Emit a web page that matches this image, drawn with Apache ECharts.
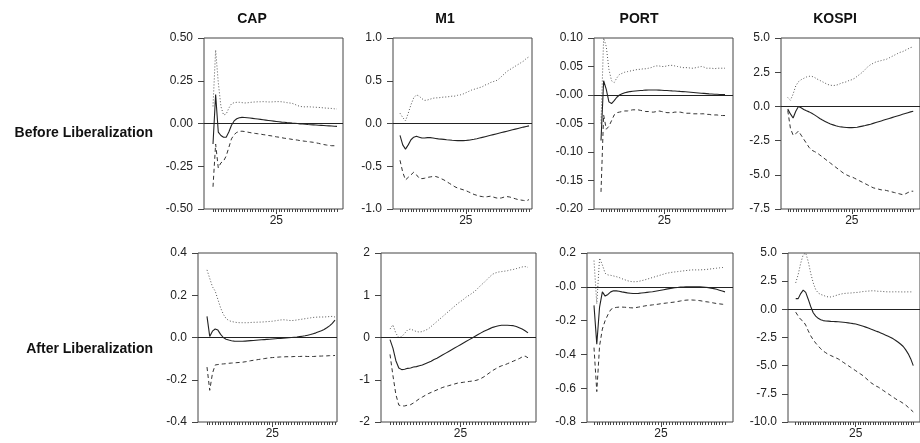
<!DOCTYPE html>
<html><head><meta charset="utf-8">
<script src="https://cdn.jsdelivr.net/npm/echarts@6/dist/echarts.min.js"></script>
<style>html,body{margin:0;padding:0;background:#fff}#c{width:920px;height:443px}</style>
</head><body><div id="c"></div>
<script>
// ---------------- DATA ----------------
const periods = [1,2,3,4,5,6,7,8,9,10,11,12,13,14,15,16,17,18,19,20,21,22,23,24,25,26,27,28,29,30,31,32,33,34,35,36,37,38,39,40,41,42,43,44,45,46,47,48];
const periodLabels = [25];
const columnTitles = ['CAP','M1','PORT','KOSPI'];
const rowTitles = ['Before Liberalization','After Liberalization'];

// Before liberalization
const capBeforeIRF = [-0.12,0.17,-0.05,-0.07,-0.08,-0.08,-0.05,-0.01,0.015,0.028,0.034,0.036,0.035,0.034,0.032,0.030,0.028,0.026,0.024,0.022,0.020,0.018,0.016,0.014,0.012,0.010,0.008,0.007,0.005,0.004,0.002,0.001,0.0,-0.002,-0.003,-0.004,-0.006,-0.007,-0.008,-0.009,-0.010,-0.011,-0.012,-0.013,-0.014,-0.015,-0.016,-0.017];
const capBeforeUpper = [0.10,0.43,0.24,0.10,0.05,0.055,0.09,0.115,0.122,0.124,0.124,0.122,0.12,0.121,0.123,0.125,0.126,0.127,0.127,0.128,0.127,0.126,0.126,0.127,0.128,0.128,0.127,0.125,0.122,0.12,0.118,0.112,0.105,0.1,0.098,0.097,0.098,0.097,0.096,0.095,0.094,0.093,0.091,0.09,0.089,0.088,0.086,0.085];
const capBeforeLower = [-0.37,-0.12,-0.26,-0.23,-0.22,-0.19,-0.14,-0.09,-0.065,-0.052,-0.046,-0.045,-0.047,-0.05,-0.053,-0.056,-0.058,-0.06,-0.062,-0.065,-0.067,-0.07,-0.072,-0.075,-0.078,-0.08,-0.083,-0.086,-0.088,-0.09,-0.093,-0.095,-0.097,-0.1,-0.102,-0.104,-0.106,-0.108,-0.11,-0.113,-0.116,-0.12,-0.123,-0.126,-0.128,-0.13,-0.13,-0.13];

const m1BeforeIRF = [-0.14,-0.25,-0.30,-0.25,-0.19,-0.16,-0.15,-0.16,-0.17,-0.17,-0.165,-0.165,-0.17,-0.175,-0.18,-0.183,-0.186,-0.19,-0.193,-0.196,-0.198,-0.2,-0.2,-0.2,-0.198,-0.195,-0.19,-0.185,-0.178,-0.17,-0.162,-0.154,-0.146,-0.138,-0.13,-0.122,-0.114,-0.106,-0.098,-0.09,-0.082,-0.074,-0.066,-0.058,-0.05,-0.042,-0.035,-0.028];
const m1BeforeUpper = [0.12,0.07,0.03,0.12,0.22,0.30,0.335,0.32,0.29,0.27,0.275,0.285,0.295,0.30,0.30,0.305,0.31,0.31,0.315,0.32,0.32,0.33,0.335,0.345,0.36,0.375,0.39,0.40,0.41,0.42,0.43,0.45,0.46,0.48,0.49,0.50,0.52,0.55,0.58,0.61,0.63,0.65,0.67,0.69,0.71,0.73,0.76,0.78];
const m1BeforeLower = [-0.43,-0.57,-0.66,-0.63,-0.60,-0.57,-0.60,-0.64,-0.645,-0.64,-0.63,-0.625,-0.62,-0.62,-0.63,-0.645,-0.66,-0.68,-0.70,-0.72,-0.74,-0.755,-0.765,-0.775,-0.785,-0.80,-0.815,-0.83,-0.84,-0.85,-0.855,-0.86,-0.855,-0.85,-0.86,-0.87,-0.875,-0.87,-0.86,-0.855,-0.86,-0.87,-0.88,-0.89,-0.895,-0.90,-0.905,-0.89];

const portBeforeIRF = [-0.08,0.025,0.01,-0.012,-0.015,-0.01,-0.004,0.0,0.002,0.004,0.005,0.006,0.0065,0.007,0.0075,0.008,0.0082,0.0085,0.0087,0.0088,0.0088,0.0087,0.0085,0.0083,0.008,0.0078,0.0075,0.0072,0.007,0.0067,0.0063,0.006,0.0056,0.0052,0.0048,0.0044,0.004,0.0036,0.0032,0.0028,0.0024,0.002,0.0017,0.0014,0.0012,0.001,0.0008,0.0006];
const portBeforeUpper = [-0.05,0.10,0.085,0.045,0.025,0.022,0.03,0.036,0.038,0.04,0.041,0.042,0.043,0.044,0.045,0.045,0.046,0.046,0.047,0.048,0.05,0.051,0.051,0.05,0.05,0.051,0.052,0.052,0.051,0.05,0.049,0.048,0.048,0.048,0.047,0.047,0.048,0.049,0.05,0.049,0.047,0.047,0.047,0.046,0.047,0.047,0.047,0.047];
const portBeforeLower = [-0.17,-0.035,-0.06,-0.055,-0.045,-0.035,-0.031,-0.03,-0.029,-0.028,-0.028,-0.027,-0.026,-0.026,-0.026,-0.027,-0.028,-0.029,-0.029,-0.03,-0.03,-0.029,-0.028,-0.029,-0.030,-0.031,-0.031,-0.031,-0.030,-0.030,-0.030,-0.031,-0.032,-0.032,-0.032,-0.033,-0.033,-0.033,-0.033,-0.033,-0.034,-0.034,-0.035,-0.035,-0.035,-0.036,-0.036,-0.036];

const kospiBeforeIRF = [-0.2,-0.55,-0.85,-0.35,0.0,-0.1,-0.22,-0.32,-0.4,-0.5,-0.62,-0.75,-0.88,-1.0,-1.1,-1.2,-1.28,-1.35,-1.42,-1.47,-1.5,-1.52,-1.54,-1.55,-1.55,-1.54,-1.52,-1.48,-1.44,-1.4,-1.35,-1.3,-1.24,-1.18,-1.12,-1.06,-1.0,-0.94,-0.88,-0.82,-0.76,-0.7,-0.64,-0.58,-0.52,-0.46,-0.4,-0.35];
const kospiBeforeUpper = [0.65,0.45,0.9,1.5,1.8,1.95,2.05,2.15,2.2,2.2,2.12,2.0,1.9,1.8,1.7,1.6,1.55,1.52,1.55,1.6,1.7,1.75,1.8,1.9,1.95,2.05,2.2,2.35,2.5,2.7,2.9,3.05,3.15,3.25,3.3,3.35,3.4,3.45,3.55,3.65,3.75,3.85,3.95,4.0,4.1,4.2,4.3,4.35];
const kospiBeforeLower = [-0.3,-1.6,-2.1,-2.0,-1.8,-2.1,-2.4,-2.7,-3.0,-3.2,-3.3,-3.4,-3.55,-3.7,-3.85,-4.0,-4.15,-4.3,-4.45,-4.6,-4.75,-4.9,-5.0,-5.1,-5.15,-5.25,-5.35,-5.45,-5.55,-5.65,-5.75,-5.85,-5.95,-6.0,-6.05,-6.1,-6.1,-6.15,-6.2,-6.25,-6.3,-6.35,-6.4,-6.45,-6.4,-6.3,-6.2,-6.2];

// After liberalization
const capAfterIRF = [0.10,0.005,0.03,0.04,0.035,0.015,0.0,-0.008,-0.012,-0.015,-0.017,-0.018,-0.018,-0.018,-0.017,-0.016,-0.015,-0.014,-0.013,-0.012,-0.011,-0.010,-0.009,-0.008,-0.007,-0.006,-0.005,-0.004,-0.003,-0.002,-0.001,0.0,0.001,0.002,0.004,0.006,0.008,0.011,0.014,0.018,0.022,0.027,0.032,0.038,0.046,0.055,0.067,0.082];
const capAfterUpper = [0.32,0.28,0.24,0.22,0.18,0.14,0.11,0.09,0.08,0.076,0.073,0.071,0.07,0.07,0.07,0.07,0.071,0.072,0.072,0.073,0.073,0.074,0.075,0.076,0.077,0.079,0.081,0.083,0.084,0.083,0.081,0.08,0.081,0.083,0.085,0.087,0.089,0.091,0.093,0.095,0.096,0.097,0.097,0.097,0.098,0.099,0.1,0.097];
const capAfterLower = [-0.14,-0.25,-0.17,-0.13,-0.128,-0.126,-0.125,-0.124,-0.122,-0.121,-0.12,-0.119,-0.118,-0.117,-0.115,-0.113,-0.11,-0.108,-0.106,-0.104,-0.102,-0.1,-0.098,-0.096,-0.095,-0.094,-0.093,-0.092,-0.092,-0.091,-0.091,-0.091,-0.09,-0.09,-0.09,-0.089,-0.089,-0.09,-0.09,-0.09,-0.089,-0.088,-0.088,-0.087,-0.087,-0.086,-0.086,-0.085];

const m1AfterIRF = [-0.05,-0.25,-0.55,-0.72,-0.76,-0.75,-0.73,-0.72,-0.7,-0.69,-0.67,-0.65,-0.62,-0.59,-0.56,-0.52,-0.49,-0.45,-0.41,-0.37,-0.33,-0.29,-0.25,-0.21,-0.17,-0.13,-0.09,-0.05,-0.01,0.03,0.07,0.11,0.15,0.18,0.21,0.24,0.26,0.28,0.29,0.29,0.29,0.285,0.28,0.26,0.23,0.2,0.16,0.11];
const m1AfterUpper = [0.2,0.3,0.1,0.0,0.02,0.1,0.18,0.2,0.17,0.14,0.13,0.14,0.17,0.2,0.26,0.32,0.38,0.44,0.5,0.56,0.62,0.68,0.74,0.8,0.85,0.9,0.96,1.0,1.05,1.1,1.17,1.24,1.3,1.37,1.44,1.5,1.53,1.55,1.56,1.57,1.58,1.6,1.61,1.63,1.65,1.67,1.68,1.66];
const m1AfterLower = [-0.4,-0.9,-1.35,-1.6,-1.62,-1.62,-1.6,-1.59,-1.55,-1.5,-1.45,-1.41,-1.37,-1.33,-1.3,-1.27,-1.24,-1.21,-1.18,-1.16,-1.14,-1.12,-1.1,-1.08,-1.07,-1.06,-1.05,-1.04,-1.03,-1.02,-1.0,-0.97,-0.93,-0.88,-0.83,-0.78,-0.74,-0.7,-0.67,-0.65,-0.62,-0.59,-0.56,-0.53,-0.5,-0.46,-0.44,-0.48];

const portAfterIRF = [-0.11,-0.34,-0.12,-0.03,-0.055,-0.045,-0.03,-0.024,-0.024,-0.026,-0.03,-0.033,-0.036,-0.038,-0.04,-0.04,-0.039,-0.037,-0.035,-0.033,-0.031,-0.029,-0.026,-0.023,-0.02,-0.017,-0.014,-0.011,-0.008,-0.006,-0.004,-0.002,-0.001,0.0,0.0,0.0,0.0,0.0,0.0,-0.001,-0.003,-0.005,-0.008,-0.011,-0.015,-0.02,-0.025,-0.03];
const portAfterUpper = [0.155,-0.1,0.17,0.13,0.08,0.07,0.068,0.064,0.06,0.055,0.048,0.042,0.036,0.032,0.03,0.03,0.032,0.036,0.04,0.045,0.05,0.055,0.06,0.065,0.07,0.075,0.08,0.083,0.086,0.088,0.09,0.092,0.094,0.096,0.098,0.1,0.1,0.1,0.1,0.101,0.102,0.104,0.106,0.108,0.11,0.112,0.114,0.115];
const portAfterLower = [-0.36,-0.62,-0.35,-0.25,-0.2,-0.165,-0.135,-0.125,-0.122,-0.12,-0.12,-0.121,-0.122,-0.124,-0.125,-0.123,-0.12,-0.117,-0.114,-0.111,-0.109,-0.107,-0.105,-0.103,-0.1,-0.098,-0.096,-0.094,-0.092,-0.09,-0.087,-0.084,-0.081,-0.079,-0.078,-0.078,-0.079,-0.08,-0.082,-0.085,-0.088,-0.09,-0.093,-0.096,-0.099,-0.101,-0.103,-0.105];

const kospiAfterIRF = [0.95,0.95,1.4,1.7,1.5,0.9,0.25,-0.3,-0.6,-0.8,-0.92,-1.0,-1.03,-1.05,-1.07,-1.08,-1.09,-1.1,-1.12,-1.14,-1.17,-1.2,-1.23,-1.27,-1.3,-1.36,-1.43,-1.5,-1.58,-1.66,-1.75,-1.83,-1.92,-2.0,-2.1,-2.2,-2.3,-2.4,-2.5,-2.62,-2.76,-2.92,-3.1,-3.3,-3.6,-3.95,-4.4,-5.0];
const kospiAfterUpper = [2.35,3.1,4.1,4.85,5.0,4.25,3.2,2.35,1.75,1.45,1.32,1.25,1.15,1.1,1.1,1.15,1.22,1.3,1.35,1.4,1.42,1.44,1.45,1.47,1.5,1.5,1.55,1.58,1.6,1.62,1.64,1.65,1.63,1.6,1.6,1.58,1.56,1.55,1.55,1.55,1.56,1.55,1.55,1.54,1.55,1.55,1.55,1.55];
const kospiAfterLower = [-0.25,-0.6,-0.9,-1.05,-1.4,-1.9,-2.35,-2.7,-3.0,-3.25,-3.5,-3.7,-3.85,-4.0,-4.1,-4.2,-4.3,-4.4,-4.55,-4.7,-4.85,-5.0,-5.15,-5.3,-5.45,-5.6,-5.75,-5.9,-6.1,-6.3,-6.5,-6.65,-6.8,-6.9,-7.05,-7.2,-7.35,-7.5,-7.65,-7.8,-7.95,-8.1,-8.2,-8.35,-8.5,-8.7,-8.9,-9.1];

// y tick labels (top to bottom)
const capBeforeTicks = ['0.50','0.25','0.00','-0.25','-0.50'];
const m1BeforeTicks = ['1.0','0.5','0.0','-0.5','-1.0'];
const portBeforeTicks = ['0.10','0.05','-0.00','-0.05','-0.10','-0.15','-0.20'];
const kospiBeforeTicks = ['5.0','2.5','0.0','-2.5','-5.0','-7.5'];
const capAfterTicks = ['0.4','0.2','0.0','-0.2','-0.4'];
const m1AfterTicks = ['2','1','0','-1','-2'];
const portAfterTicks = ['0.2','-0.0','-0.2','-0.4','-0.6','-0.8'];
const kospiAfterTicks = ['5.0','2.5','0.0','-2.5','-5.0','-7.5','-10.0'];

// ---------------- LAYOUT ----------------
// box: left, right, top, bottom (px); s/e: pixel x of first / last period
const panels = [
  {col:0,row:0,irf:capBeforeIRF,up:capBeforeUpper,lo:capBeforeLower,ticks:capBeforeTicks,l:204,r:343,t:38,b:209,s:213,e:337},
  {col:1,row:0,irf:m1BeforeIRF,up:m1BeforeUpper,lo:m1BeforeLower,ticks:m1BeforeTicks,l:393,r:532,t:38,b:209,s:400,e:529},
  {col:2,row:0,irf:portBeforeIRF,up:portBeforeUpper,lo:portBeforeLower,ticks:portBeforeTicks,l:594,r:733,t:38,b:209,s:601,e:725},
  {col:3,row:0,irf:kospiBeforeIRF,up:kospiBeforeUpper,lo:kospiBeforeLower,ticks:kospiBeforeTicks,l:781,r:925,t:38,b:209,s:788,e:918},
  {col:0,row:1,irf:capAfterIRF,up:capAfterUpper,lo:capAfterLower,ticks:capAfterTicks,l:198,r:337,t:253,b:422,s:207,e:335},
  {col:1,row:1,irf:m1AfterIRF,up:m1AfterUpper,lo:m1AfterLower,ticks:m1AfterTicks,l:381,r:536,t:253,b:422,s:390,e:528},
  {col:2,row:1,irf:portAfterIRF,up:portAfterUpper,lo:portAfterLower,ticks:portAfterTicks,l:587,r:733,t:253,b:422,s:594,e:725},
  {col:3,row:1,irf:kospiAfterIRF,up:kospiAfterUpper,lo:kospiAfterLower,ticks:kospiAfterTicks,l:788,r:925,t:253,b:422,s:796,e:918}
];
const titlePos = [[252,19],[445,19],[639,19],[835,19]];
const rowLabelPos = [[153,133],[153,349]];

const FONT = 'Liberation Sans, Arial, Helvetica, sans-serif';
const grids = [], xAxes = [], yAxes = [], series = [], graphics = [];

panels.forEach((p, i) => {
  const n = periods.length;
  const k = (p.e - p.s) / (periods[n-1] - periods[0]);
  const xMin = periods[0] - (p.s - p.l) / k;
  const xMax = periods[n-1] + (p.r - p.e) / k;
  const tickVals = p.ticks.map(parseFloat);
  const yMax = tickVals[0], yMin = tickVals[tickVals.length-1];
  const yInt = Math.abs(tickVals[0] - tickVals[1]);
  grids.push({left:p.l, top:p.t, width:p.r - p.l, height:p.b - p.t, show:true,
    borderColor:'#444', borderWidth:1, backgroundColor:'transparent'});
  xAxes.push({type:'value', gridIndex:i, min:xMin, max:xMax, position:'bottom',
    axisLine:{show:false, onZero:false}, splitLine:{show:false},
    axisTick:{show:true, customValues:periods, length:3, lineStyle:{color:'#444', width:1}},
    axisLabel:{show:true, customValues:periodLabels, fontSize:12, color:'#222', margin:6, fontFamily:FONT}});
  xAxes.push({type:'value', gridIndex:i, min:xMin, max:xMax, position:'bottom', offset:0,
    axisLine:{show:false, onZero:false}, splitLine:{show:false},
    axisTick:{show:true, customValues:periodLabels, length:5, lineStyle:{color:'#444', width:1}},
    axisLabel:{show:false}});
  yAxes.push({type:'value', gridIndex:i, min:yMin, max:yMax, interval:yInt,
    axisLine:{show:false, onZero:false}, splitLine:{show:false},
    axisTick:{show:true, length:6, lineStyle:{color:'#444', width:1}},
    axisLabel:{fontSize:12, color:'#222', margin:11, fontFamily:FONT,
      formatter:(v)=>{ const idx = Math.round((yMax - v)/yInt); return p.ticks[idx] !== undefined ? p.ticks[idx] : ''; }}});
  const xi = i*2;
  const mk = (arr, style, withZero) => {
    const s = {type:'line', xAxisIndex:xi, yAxisIndex:i, showSymbol:false, symbol:'none',
      silent:true, animation:false, clip:true,
      data: periods.map((t, j) => [t, arr[j]]), lineStyle:style};
    if (withZero) s.markLine = {silent:true, symbol:['none','none'], label:{show:false},
      lineStyle:{color:'#222', type:'solid', width:1}, data:[{yAxis:0}], animation:false};
    return s;
  };
  series.push(mk(p.lo, {color:'#333', width:1, type:[4,3]}, false));
  series.push(mk(p.up, {color:'#555', width:1, type:[1,2]}, false));
  series.push(mk(p.irf, {color:'#222', width:1.1, type:'solid'}, true));
});

columnTitles.forEach((t, i) => graphics.push({type:'text', x:titlePos[i][0], y:titlePos[i][1],
  style:{text:t, align:'center', verticalAlign:'middle', font:'bold 14px ' + FONT, fill:'#111'}}));
rowTitles.forEach((t, i) => graphics.push({type:'text', x:rowLabelPos[i][0], y:rowLabelPos[i][1],
  style:{text:t, align:'right', verticalAlign:'middle', font:'bold 14px ' + FONT, fill:'#111'}}));

const chart = echarts.init(document.getElementById('c'), null, {renderer:'canvas'});
chart.setOption({animation:false, backgroundColor:'#fff', grid:grids, xAxis:xAxes, yAxis:yAxes, series:series, graphic:graphics});
</script>
</body></html>
